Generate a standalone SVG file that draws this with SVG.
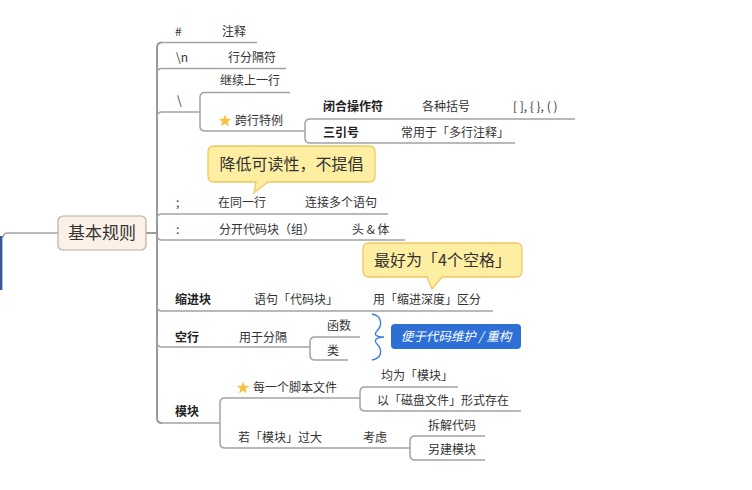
<svg xmlns="http://www.w3.org/2000/svg" xmlns:xlink="http://www.w3.org/1999/xlink" width="752" height="490" viewBox="0 0 752 490">
<style>
text{font-family:"Noto Sans CJK SC","Noto Sans",sans-serif;fill:#333;font-size:12px}
.b{font-weight:bold;fill:#222}
.c{font-size:16px;text-anchor:middle}
.line{fill:none;stroke:#a3a3a3;stroke-width:1.5}
.main{fill:none;stroke:#9a9a9a;stroke-width:2}
.call{fill:#fdeea2;stroke:#f0c860;stroke-width:1.3}
</style>
<defs>
<path id="star" d="M0,-6.5 L1.65,-2.27 L6.18,-2.01 L2.66,0.87 L3.82,5.26 L0,2.8 L-3.82,5.26 L-2.66,0.87 L-6.18,-2.01 L-1.65,-2.27 Z" fill="#f8c240"/>
</defs>
<rect width="752" height="490" fill="#fff"/>

<g id="connectors">
<!-- edge to off-screen parent -->
<path class="line" d="M58,233 H8 Q3,233 3,238"/>
<line x1="1.2" y1="236" x2="1.2" y2="290" stroke="#3a5a9a" stroke-width="2.4"/>
<!-- root to children -->
<path class="main" d="M146,233 H157"/>
<path class="main" d="M157,233 V47.5 Q157,42.5 162,42.5"/>
<path class="main" d="M157,233 V418 Q157,423 162,423"/>
<path class="line" d="M162,42.5 H257"/>
<path class="line" d="M157,73.5 Q157,68.5 162,68.5 H286"/>
<path class="line" d="M157,117 Q157,112 162,112 H200"/>
<path class="line" d="M157,219 Q157,214 162,214 H388"/>
<path class="line" d="M157,235 Q157,240 162,240 H405"/>
<path class="line" d="M157,306 Q157,311 162,311 H493"/>
<path class="line" d="M157,342 Q157,347 162,347 H310"/>
<path class="line" d="M162,423 H220"/>
<!-- \ children -->
<path class="line" d="M200,112 V97.5 Q200,92.5 205,92.5 H290"/>
<path class="line" d="M200,112 V126 Q200,131 205,131 H305"/>
<!-- 跨行特例 children -->
<path class="line" d="M305,131 V124 Q305,119 310,119 H575"/>
<path class="line" d="M305,131 V138 Q305,143 310,143 H515"/>
<!-- 空行 children -->
<path class="line" d="M310,347 V342 Q310,337 315,337 H360"/>
<path class="line" d="M310,347 V355 Q310,360 315,360 H348"/>
<!-- 模块 children -->
<path class="line" d="M220,423 V403 Q220,398 225,398 H360"/>
<path class="line" d="M220,423 V443 Q220,448 225,448 H410"/>
<path class="line" d="M360,398 V392 Q360,387 365,387 H458"/>
<path class="line" d="M360,398 V406 Q360,411 365,411 H521"/>
<path class="line" d="M410,448 V441 Q410,436 415,436 H485"/>
<path class="line" d="M410,448 V455 Q410,460 415,460 H485"/>
</g>

<g id="root">
<rect x="58" y="216" width="88" height="34" rx="5" fill="#fdf1e7" stroke="#bcad9e" stroke-width="1.2"/>
<text x="102" y="239" style="font-size:17px;text-anchor:middle">基本规则</text>
</g>

<g id="n-hash"><text x="175" y="36">#</text><text x="222" y="36">注释</text></g>
<g id="n-newline"><text x="176" y="62">\n</text><text x="228" y="62">行分隔符</text></g>
<g id="n-backslash"><text x="177" y="105">\</text></g>
<g id="n-continue"><text x="220" y="85">继续上一行</text></g>
<g id="n-special"><use xlink:href="#star" x="225" y="121"/><text x="235" y="125">跨行特例</text></g>
<g id="n-closing"><text class="b" x="323" y="111">闭合操作符</text><text x="422" y="111">各种括号</text><text x="513" y="111">[ ], { }, ( )</text></g>
<g id="n-triple"><text class="b" x="323" y="137">三引号</text><text x="401" y="137">常用于「多行注释」</text></g>

<g id="callout1">
<path class="call" d="M214,146 H369 Q375,146 375,152 V176 Q375,182 369,182 H268 L254,193 L256,182 H214 Q208,182 208,176 V152 Q208,146 214,146 Z"/>
<text class="c" x="291.5" y="169.5">降低可读性，不提倡</text>
</g>

<g id="n-semicolon"><text x="176" y="207">;</text><text x="218" y="207">在同一行</text><text x="305" y="207">连接多个语句</text></g>
<g id="n-colon"><text x="176" y="234">:</text><text x="219" y="234">分开代码块（组）</text><text x="352" y="234">头 &amp; 体</text></g>

<g id="callout2">
<path class="call" d="M369,243 H516 Q522,243 522,249 V271 Q522,277 516,277 H442 L432,289 L427,277 H369 Q363,277 363,271 V249 Q363,243 369,243 Z"/>
<text class="c" x="442.5" y="265.5">最好为「4个空格」</text>
</g>

<g id="n-indent"><text class="b" x="175" y="304">缩进块</text><text x="254" y="304">语句「代码块」</text><text x="373" y="304">用「缩进深度」区分</text></g>

<g id="n-blank"><text class="b" x="175" y="342">空行</text><text x="239" y="342">用于分隔</text></g>
<g id="n-func"><text x="327" y="330">函数</text></g>
<g id="n-class"><text x="327" y="355">类</text></g>

<g id="summary">
<path d="M372,314 C383,316 382,326 377,331 C373,335 377,337 384,337 C377,337 373,340 377,344 C382,349 383,358 372,360" fill="none" stroke="#3d7fe0" stroke-width="1.4"/>
<rect x="391" y="324" width="130" height="25" rx="4" fill="#2e6fd6"/>
<text x="456" y="341" style="fill:#fff;font-style:italic;font-size:12.5px;text-anchor:middle">便于代码维护 / 重构</text>
</g>

<g id="n-module"><text class="b" x="175" y="416">模块</text></g>
<g id="n-script"><use xlink:href="#star" x="243" y="388"/><text x="253" y="392">每一个脚本文件</text></g>
<g id="n-ismodule"><text x="381" y="380">均为「模块」</text></g>
<g id="n-disk"><text x="377" y="405">以「磁盘文件」形式存在</text></g>
<g id="n-toobig"><text x="238" y="442">若「模块」过大</text><text x="363" y="442">考虑</text></g>
<g id="n-split"><text x="428" y="430">拆解代码</text></g>
<g id="n-new"><text x="428" y="454">另建模块</text></g>
</svg>
